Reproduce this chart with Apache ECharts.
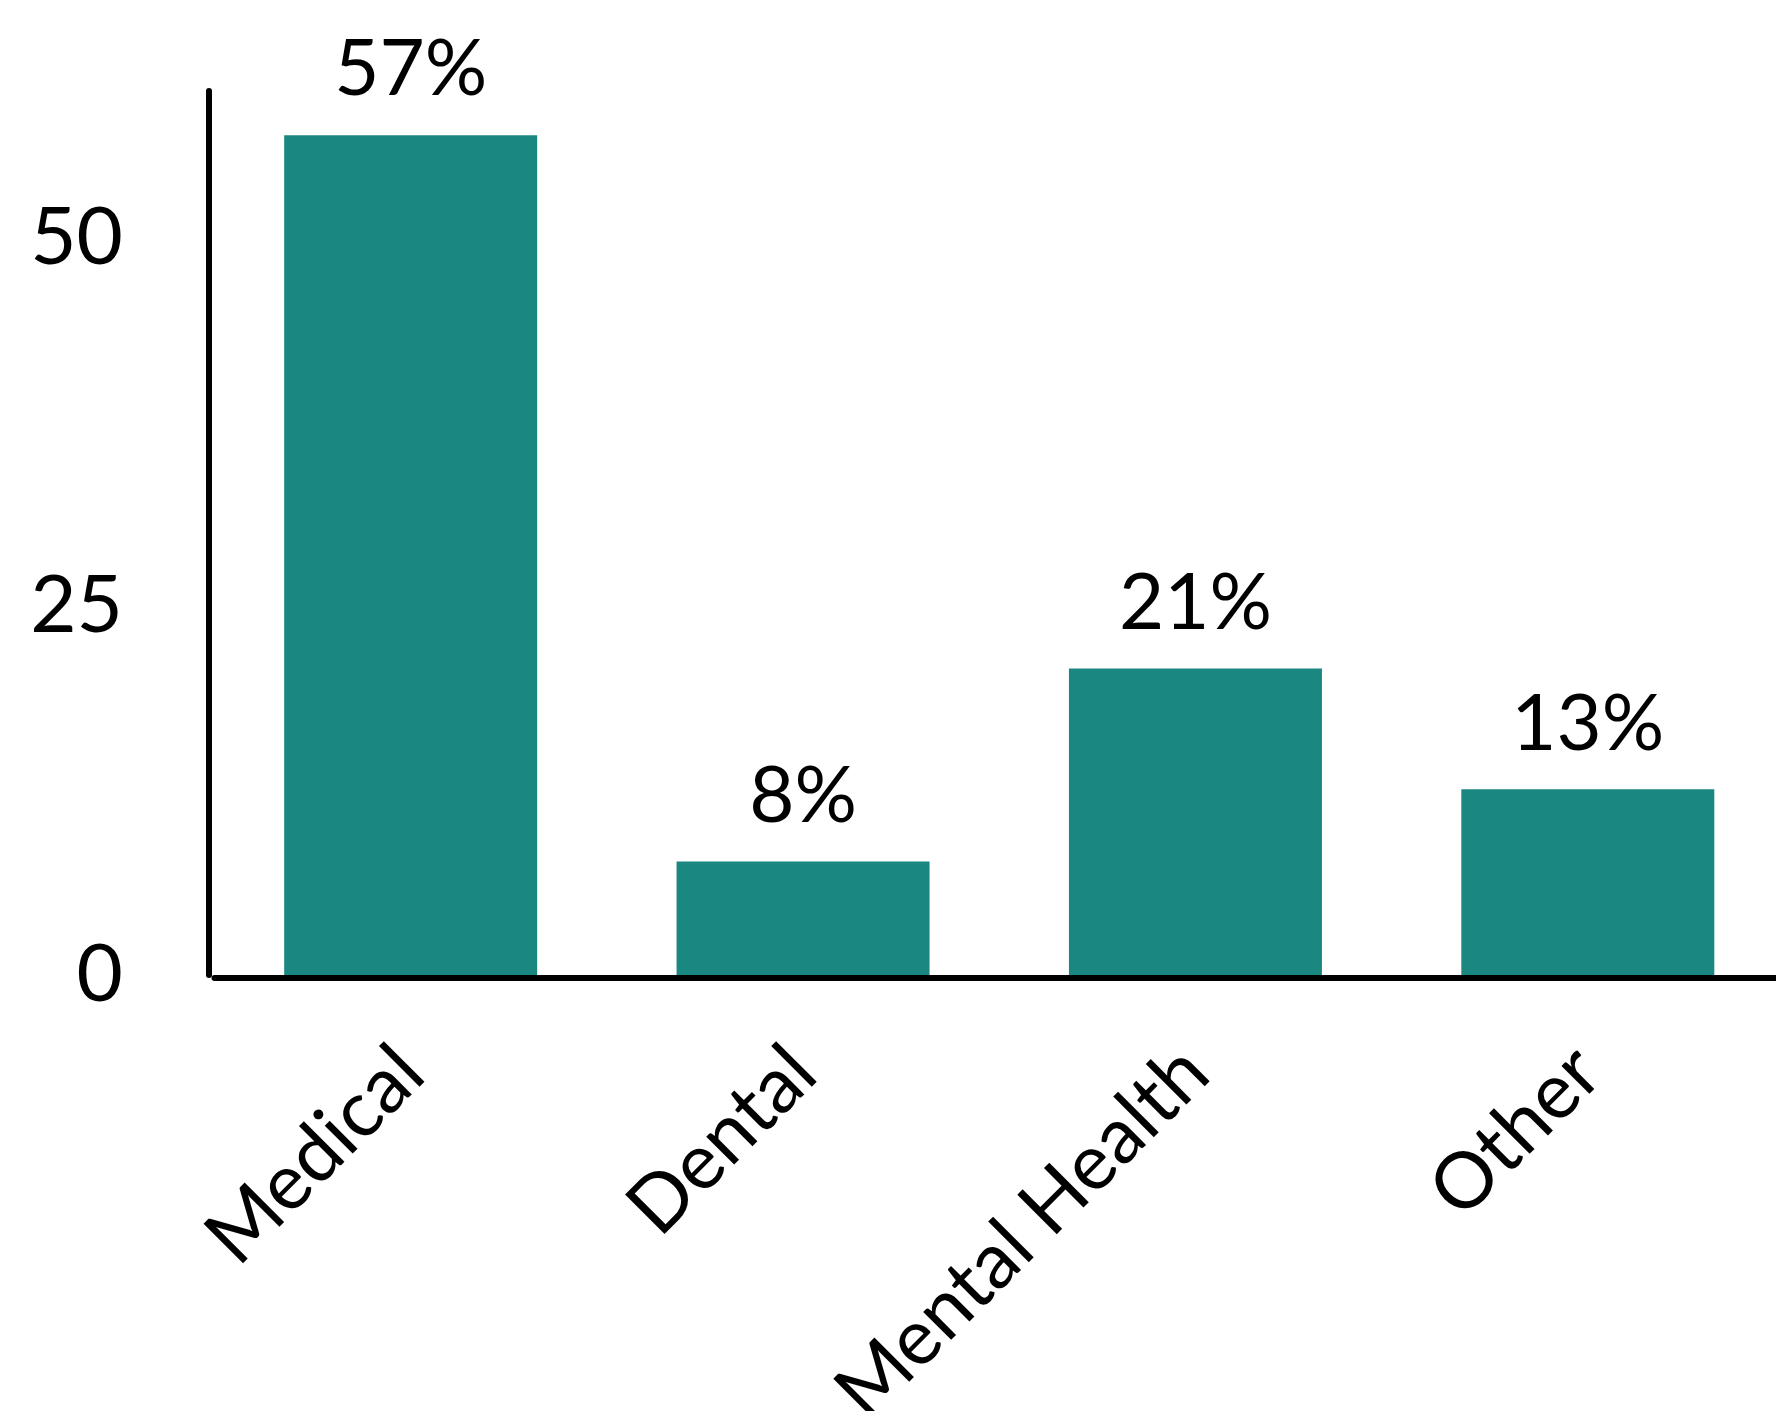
<!DOCTYPE html>
<html>
<head>
<meta charset="utf-8">
<script src="https://cdn.jsdelivr.net/npm/echarts@6/dist/echarts.min.js"></script>
<style>
html,body{margin:0;padding:0;background:#fff;}
#chart{width:1776px;height:1411px;}
</style>
</head>
<body>
<div id="chart"></div>
<script>
const categories = ["Medical", "Dental", "Mental Health", "Other"];
// bar heights; labels show them rounded
const values = [57, 7.7, 20.8, 12.6];
const yTicks = [0, 25, 50];

const FONT = "Lato";
const chart = echarts.init(document.getElementById('chart'), null, {renderer: 'canvas'});
chart.setOption({
  animation: false,
  backgroundColor: '#ffffff',
  grid: {left: 214.5, right: -8, top: 91, bottom: 436, containLabel: false, outerBoundsMode: 'none'},
  xAxis: {
    type: 'category',
    data: categories,
    offset: 3,
    axisLine: {show: true, onZero: false, lineStyle: {color: '#000', width: 6}},
    axisTick: {show: false},
    axisLabel: {rotate: 45, fontSize: 78, fontFamily: FONT, color: '#000', margin: 82, interval: 0}
  },
  yAxis: {
    type: 'value',
    min: 0,
    max: 60,
    interval: 25,
    offset: 5.5,
    axisLine: {show: true, lineStyle: {color: '#000', width: 6}},
    axisTick: {show: false},
    splitLine: {show: false},
    axisLabel: {
      fontSize: 80, fontFamily: FONT, color: '#000', margin: 86,
      showMaxLabel: false,
      formatter: v => (yTicks.indexOf(v) >= 0 ? String(v) : '')
    }
  },
  series: [{
    type: 'bar',
    data: values,
    barWidth: 253,
    itemStyle: {color: '#1a8781'},
    label: {show: true, position: 'top', distance: 26, fontSize: 78, fontFamily: FONT, color: '#000',
      formatter: p => Math.round(p.value) + '%'}
  }]
});
</script>
</body>
</html>
